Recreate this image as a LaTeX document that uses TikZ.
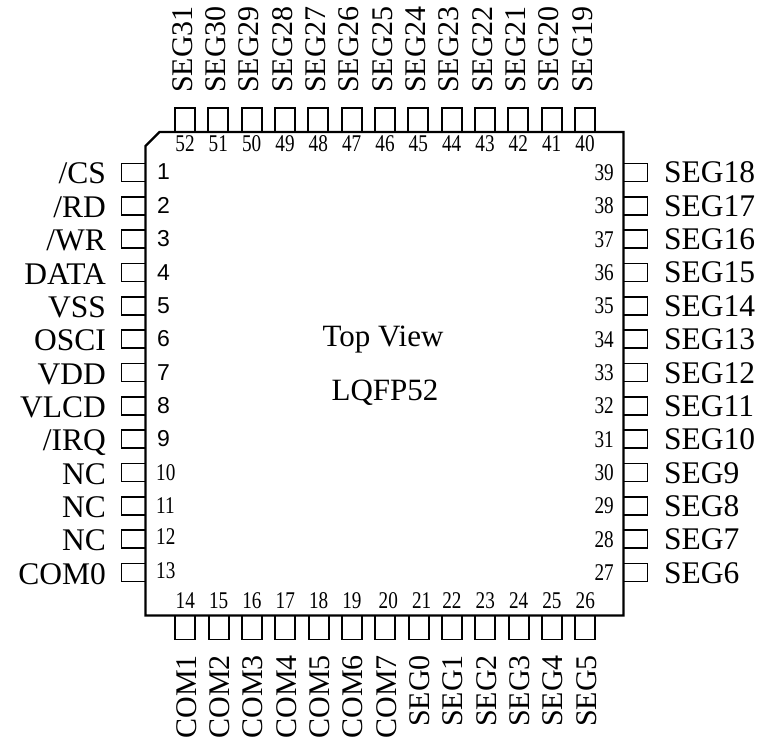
\documentclass[tikz,border=0pt]{standalone}
\usepackage{fontspec}
\setmainfont{Liberation Serif}
\newfontfamily\pinsans{Liberation Sans}
\newcommand\pnum[1]{\scalebox{0.8}[1]{#1}}
\begin{document}
\begin{tikzpicture}[x=1pt,y=-1pt,
  hpin/.style={draw,line width=1.8pt,minimum width=24pt,minimum height=18pt,inner sep=0pt,outer sep=0pt},
  vpin/.style={draw,line width=1.8pt,minimum width=20pt,minimum height=24pt,inner sep=0pt,outer sep=0pt},
  lbl/.style={inner sep=0pt,font=\fontsize{31.5}{37}\selectfont},
  vlbl/.style={inner sep=0pt,font=\fontsize{30}{36}\selectfont,rotate=90},
  ctr/.style={inner sep=0pt,font=\fontsize{31}{37}\selectfont},
  num/.style={inner sep=0pt,font=\fontsize{24}{28}\selectfont},
  snum/.style={inner sep=0pt,font=\pinsans\fontsize{23}{27}\selectfont},
  chip/.style={line width=2.4pt,line join=miter}]
\useasboundingbox (0,0) rectangle (762,743);
% package outline
\draw[chip] (145.5,146) -- (145.5,615.5) -- (623.5,615.5) -- (623.5,132) -- (159.5,132) -- cycle;
% left side
\foreach \nm [count=\i] in {/CS,/RD,/WR,DATA,VSS,OSCI,VDD,VLCD,/IRQ,NC,NC,NC,COM0} {
  \pgfmathsetmacro\yy{172.5+(\i-1)*33.333}
  \node[hpin] (L\i) at (133.5,\yy) {};
  \node[lbl,anchor=base east] (LT\i) at (106,\yy+11.5) {\nm};
}
\foreach \i in {1,...,9} {
  \pgfmathsetmacro\yy{172.5+(\i-1)*33.333}
  \node[snum,anchor=base west] (LN\i) at (157,\yy+7.5) {\i};
}
\foreach \i/\dy in {10/7.5,11/7.5,12/5,13/6} {
  \pgfmathsetmacro\yy{172.5+(\i-1)*33.333}
  \node[num,anchor=base west] (LN\i) at (156,\yy+\dy) {\pnum{\i}};
}
% right side
\foreach \nm/\p [count=\i] in {SEG18/39,SEG17/38,SEG16/37,SEG15/36,SEG14/35,SEG13/34,SEG12/33,SEG11/32,SEG10/31,SEG9/30,SEG8/29,SEG7/28,SEG6/27} {
  \pgfmathsetmacro\yy{172.5+(\i-1)*33.333}
  \node[hpin] (R\p) at (635.5,\yy) {};
  \node[lbl,anchor=base west] (RT\p) at (664,\yy+10.5) {\nm};
  \node[num,anchor=base east] (RN\p) at (614,\yy+8) {\pnum{\p}};
}
% top side
\foreach \nm/\p [count=\j from 0] in {SEG31/52,SEG30/51,SEG29/50,SEG28/49,SEG27/48,SEG26/47,SEG25/46,SEG24/45,SEG23/44,SEG22/43,SEG21/42,SEG20/41,SEG19/40} {
  \pgfmathsetmacro\xx{185+\j*33.333}
  \node[vpin] (T\p) at (\xx,120) {};
  \node[vlbl,anchor=base west] (TT\p) at (\xx+7,93) {\nm};
  \node[num,anchor=base] (TN\p) at (\xx,151.7) {\pnum{\p}};
}
% bottom side
\foreach \nm/\p/\dx [count=\j from 0] in {COM1/14/0,COM2/15/0,COM3/16/0,COM4/17/0,COM5/18/0,COM6/19/0,COM7/20/3,SEG0/21/3,SEG1/22/0,SEG2/23/0,SEG3/24/0,SEG4/25/0,SEG5/26/0} {
  \pgfmathsetmacro\xx{185.3+\j*33.333}
  \node[vpin] (B\p) at (\xx,627.5) {};
  \node[vlbl,anchor=base east] (BT\p) at (\xx+11,655) {\nm};
  \node[num,anchor=base] (BN\p) at (\xx+\dx,608.5) {\pnum{\p}};
}
% centre text
\node[ctr,anchor=base] (view) at (383,346.7) {Top View};
\node[ctr,anchor=base] (pkg) at (385,400.7) {LQFP52};
\end{tikzpicture}
\end{document}
